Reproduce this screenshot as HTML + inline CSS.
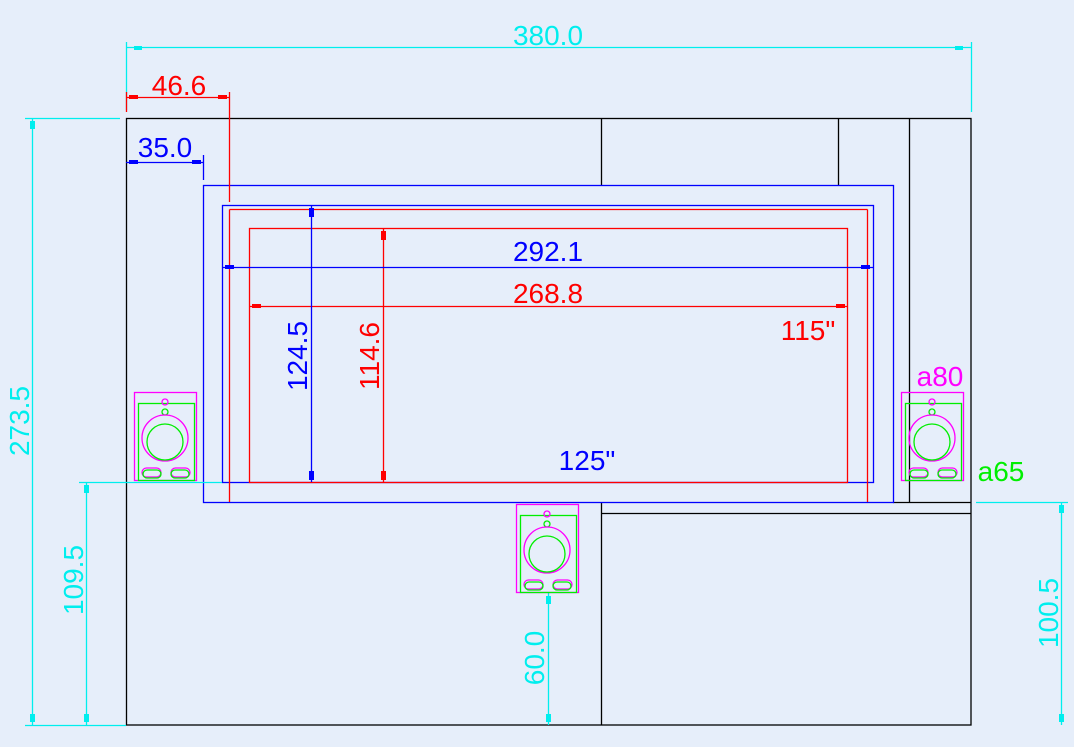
<!DOCTYPE html>
<html><head><style>
html,body{margin:0;padding:0;background:#e6eefa;}
svg{display:block;}
text{font-family:"Liberation Sans",sans-serif;font-size:28px;}
</style></head><body>
<svg width="1074" height="747" viewBox="0 0 1074 747" xmlns="http://www.w3.org/2000/svg">
<defs>
<g id="spk" fill="none" stroke-width="1.3">
<rect x="0.5" y="0.5" width="62" height="88" stroke="#ff00ff"/>
<rect x="4.5" y="11.5" width="56" height="77" stroke="#00ee00"/>
<circle cx="31" cy="10" r="3" stroke="#ff00ff"/>
<circle cx="31" cy="20" r="3" stroke="#00ee00"/>
<circle cx="31" cy="46" r="23" stroke="#ff00ff"/>
<circle cx="31" cy="50" r="18" stroke="#00ee00"/>
<rect x="8" y="76" width="19" height="9" rx="4.5" stroke="#ff00ff"/>
<rect x="9" y="78" width="18" height="8" rx="4" stroke="#00ee00"/>
<rect x="37" y="76" width="19" height="9" rx="4.5" stroke="#ff00ff"/>
<rect x="37" y="78" width="18" height="8" rx="4" stroke="#00ee00"/>
</g>
</defs>
<g fill="none" stroke="#000" stroke-width="1.3">
<rect x="126.5" y="118.5" width="844.5" height="606.5"/>
<line x1="601.5" y1="118" x2="601.5" y2="185"/>
<line x1="601.5" y1="502" x2="601.5" y2="725"/>
<line x1="838.5" y1="118" x2="838.5" y2="185"/>
<line x1="909.5" y1="118" x2="909.5" y2="502"/>
<line x1="893" y1="502.5" x2="971" y2="502.5"/>
<line x1="601" y1="513.5" x2="971" y2="513.5"/>
</g>
<g fill="none" stroke="#0000ff" stroke-width="1.3">
<rect x="203.5" y="185.5" width="690" height="317"/>
<rect x="222.5" y="205.5" width="651" height="277"/>
</g>
<g fill="none" stroke="#ff0000" stroke-width="1.3">
<line x1="229.5" y1="209.5" x2="867.5" y2="209.5"/>
<line x1="229.5" y1="209.5" x2="229.5" y2="502"/>
<line x1="867.5" y1="209.5" x2="867.5" y2="502"/>
<rect x="249.5" y="228.5" width="598" height="254"/>
</g>
<g stroke="#00eeee" stroke-width="1.3" fill="none">
<line x1="126" y1="47.5" x2="971" y2="47.5"/>
<line x1="126.5" y1="42" x2="126.5" y2="110"/>
<line x1="971.5" y1="42" x2="971.5" y2="112"/>
<line x1="32.5" y1="118" x2="32.5" y2="725"/>
<line x1="25" y1="118.5" x2="120" y2="118.5"/>
<line x1="25" y1="725.5" x2="126" y2="725.5"/>
<line x1="86.5" y1="482" x2="86.5" y2="725"/>
<line x1="79" y1="482.5" x2="222" y2="482.5"/>
<line x1="1061.5" y1="502" x2="1061.5" y2="725"/>
<line x1="976" y1="502.5" x2="1068" y2="502.5"/>
<line x1="548.5" y1="593" x2="548.5" y2="725"/>
</g>
<g fill="#00eeee">
<rect x="134" y="46" width="8" height="4"/><rect x="955" y="46" width="8" height="4"/>
<rect x="30" y="121" width="5" height="8"/><rect x="30" y="714" width="5" height="8"/>
<rect x="84" y="485" width="5" height="8"/><rect x="84" y="714" width="5" height="8"/>
<rect x="1059" y="505" width="5" height="8"/><rect x="1059" y="714" width="5" height="8"/>
<rect x="546" y="596" width="5" height="8"/><rect x="546" y="714" width="5" height="8"/>
</g>
<g stroke="#ff0000" stroke-width="1.3" fill="none">
<line x1="126" y1="97.5" x2="229" y2="97.5"/>
<line x1="229.5" y1="92" x2="229.5" y2="202"/>
<line x1="126.5" y1="92" x2="126.5" y2="112"/>
<line x1="249" y1="306.5" x2="847" y2="306.5"/>
<line x1="383.5" y1="228" x2="383.5" y2="482"/>
</g>
<g fill="#ff0000">
<rect x="129" y="95" width="9" height="4"/><rect x="218" y="95" width="9" height="4"/>
<rect x="252" y="304" width="9" height="4"/><rect x="836" y="304" width="9" height="4"/>
<rect x="381" y="231" width="5" height="9"/><rect x="381" y="471" width="5" height="9"/>
</g>
<g stroke="#0000ff" stroke-width="1.3" fill="none">
<line x1="126" y1="162.5" x2="203" y2="162.5"/>
<line x1="203.5" y1="155" x2="203.5" y2="180"/>
<line x1="222" y1="267.5" x2="873" y2="267.5"/>
<line x1="311.5" y1="205" x2="311.5" y2="482"/>
</g>
<g fill="#0000ff">
<rect x="129" y="160" width="9" height="4"/><rect x="192" y="160" width="9" height="4"/>
<rect x="225" y="265" width="9" height="4"/><rect x="861" y="265" width="9" height="4"/>
<rect x="309" y="208" width="5" height="9"/><rect x="309" y="471" width="5" height="9"/>
</g>
<use href="#spk" x="134" y="392"/>
<use href="#spk" x="516" y="504"/>
<use href="#spk" x="901" y="392"/>
<g fill="#00eeee">
<text x="548" y="45" text-anchor="middle">380.0</text>
<text transform="translate(29,421) rotate(-90)" text-anchor="middle">273.5</text>
<text transform="translate(83,580) rotate(-90)" text-anchor="middle">109.5</text>
<text transform="translate(544,658) rotate(-90)" text-anchor="middle">60.0</text>
<text transform="translate(1058,613) rotate(-90)" text-anchor="middle">100.5</text>
</g>
<g fill="#ff0000">
<text x="179" y="95" text-anchor="middle">46.6</text>
<text x="548" y="303" text-anchor="middle">268.8</text>
<text x="808" y="340" text-anchor="middle">115"</text>
<text transform="translate(379,356) rotate(-90)" text-anchor="middle">114.6</text>
</g>
<g fill="#0000ff">
<text x="165" y="157" text-anchor="middle">35.0</text>
<text x="548" y="261" text-anchor="middle">292.1</text>
<text x="587" y="470" text-anchor="middle">125"</text>
<text transform="translate(307,356) rotate(-90)" text-anchor="middle">124.5</text>
</g>
<text x="940" y="386" text-anchor="middle" fill="#ff00ff">a80</text>
<text x="1001" y="481" text-anchor="middle" fill="#00ee00">a65</text>
</svg>
</body></html>
